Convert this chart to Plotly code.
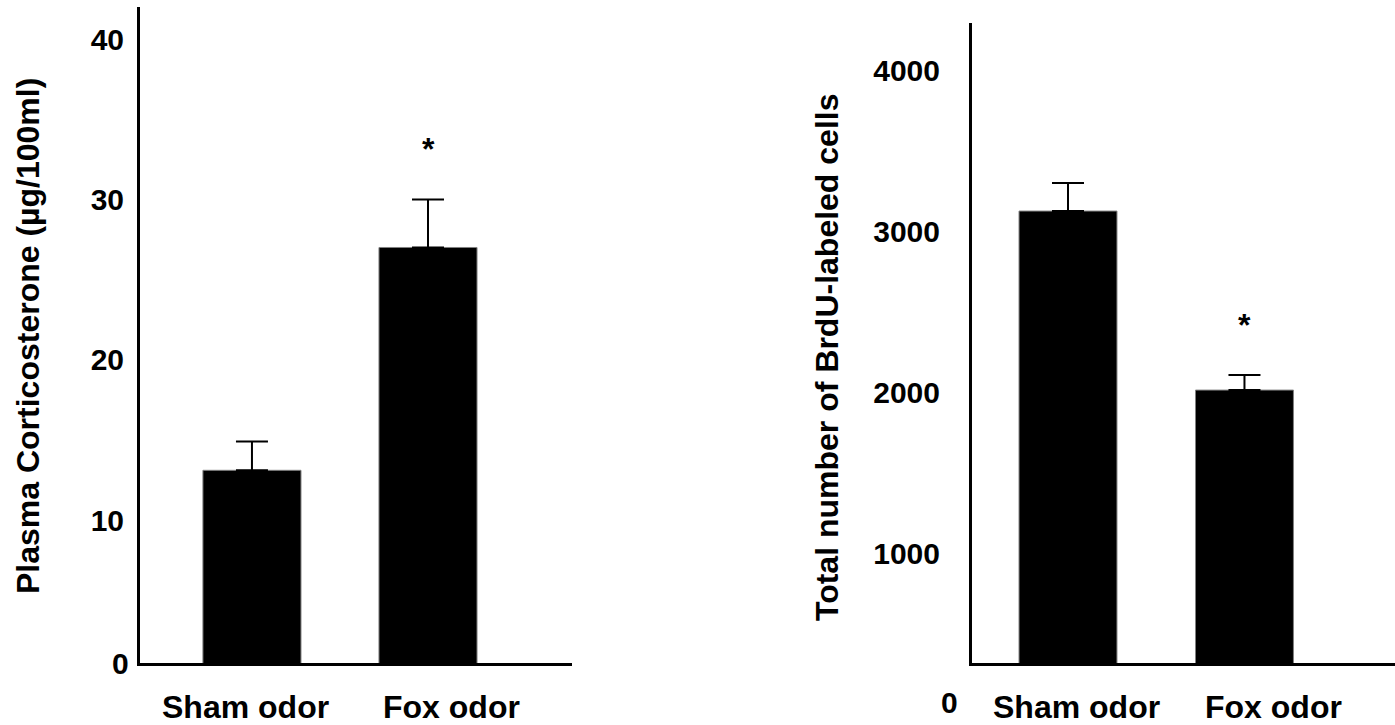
import plotly.graph_objects as go

# ---- data ----
categories = ["Sham odor", "Fox odor"]
cort_mean = [13.1, 27.0]
cort_sem = [1.8, 3.0]
cort_star = [None, 33.3]          # y of significance marker
brdu_mean = [3124, 2012]
brdu_sem = [174, 94]
brdu_star = [None, 2435]
cort_ticks = [10, 20, 30, 40]
brdu_ticks = [1000, 2000, 3000, 4000]
zero_label = "0"
cort_title = "Plasma Corticosterone (µg/100ml)"
brdu_title = "Total number of BrdU-labeled cells"

W, H = 1395, 725
FONT = "Arial, Liberation Sans, sans-serif"


def px(x):
    return x / W


def py(y):
    return (H - y) / H


fig = go.Figure()

bar_style = dict(marker=dict(color="black", line=dict(color="#808080", width=1)))
err_style = dict(type="data", symmetric=False, color="black", thickness=2, width=16)

fig.add_trace(go.Bar(
    x=[0, 1], y=cort_mean, width=0.557, xaxis="x", yaxis="y",
    error_y=dict(array=cort_sem, arrayminus=[0] * len(cort_sem), **err_style),
    showlegend=False, **bar_style))
fig.add_trace(go.Bar(
    x=[0, 1], y=brdu_mean, width=0.555, xaxis="x2", yaxis="y2",
    error_y=dict(array=brdu_sem, arrayminus=[0] * len(brdu_sem), **err_style),
    showlegend=False, **bar_style))

axis_common = dict(showline=True, linecolor="black", linewidth=3, showgrid=False,
                   zeroline=False, ticks="")
tickfont = dict(family=FONT, size=30, color="black", weight="bold")

fig.update_layout(
    width=W, height=H, margin=dict(l=0, r=0, t=0, b=0),
    paper_bgcolor="white", plot_bgcolor="white",
    xaxis=dict(domain=[px(140), px(572)], range=[-0.636, 1.818], anchor="y",
               showticklabels=False, **axis_common),
    yaxis=dict(domain=[py(663), py(7)], range=[1.08, 42.0], anchor="x",
               tickvals=cort_ticks, ticktext=[str(t) for t in cort_ticks],
               tickfont=tickfont, ticklabelstandoff=7, **axis_common),
    xaxis2=dict(domain=[px(972), 1.0], range=[-0.544, 1.853], anchor="y2",
                showticklabels=False, **axis_common),
    yaxis2=dict(domain=[py(663), py(23)], range=[317, 4292], anchor="x2",
                tickvals=brdu_ticks, ticktext=[str(t) for t in brdu_ticks],
                tickfont=tickfont, ticklabelstandoff=23, **axis_common),
)

ann = []
lab_font = dict(family=FONT, size=32, color="black", weight="bold")
# axis titles
ann.append(dict(text=cort_title, x=px(28), y=py(336), xref="paper", yref="paper",
                textangle=-90, showarrow=False, font=lab_font,
                xanchor="center", yanchor="middle"))
ann.append(dict(text=brdu_title, x=px(827), y=py(358), xref="paper", yref="paper",
                textangle=-90, showarrow=False, font=lab_font,
                xanchor="center", yanchor="middle"))
# zero labels
ann.append(dict(text=zero_label, x=px(120), y=py(663), xref="paper", yref="paper",
                showarrow=False, font=tickfont, xanchor="center", yanchor="middle"))
ann.append(dict(text=zero_label, x=px(949), y=py(702), xref="paper", yref="paper",
                showarrow=False, font=tickfont, xanchor="center", yanchor="middle"))
# category labels
left_shift = [-6, 23]
right_shift = [8, 29]
for i, c in enumerate(categories):
    ann.append(dict(text=c, x=i, xref="x", y=py(707), yref="paper", xshift=left_shift[i],
                    showarrow=False, font=lab_font, xanchor="center", yanchor="middle"))
    ann.append(dict(text=c, x=i, xref="x2", y=py(707), yref="paper", xshift=right_shift[i],
                    showarrow=False, font=lab_font, xanchor="center", yanchor="middle"))
# significance markers
for i, s in enumerate(cort_star):
    if s is not None:
        ann.append(dict(text="*", x=i, y=s, xref="x", yref="y", yshift=-3,
                        showarrow=False, font=lab_font, xanchor="center", yanchor="middle"))
for i, s in enumerate(brdu_star):
    if s is not None:
        ann.append(dict(text="*", x=i, y=s, xref="x2", yref="y2", yshift=-3,
                        showarrow=False, font=lab_font, xanchor="center", yanchor="middle"))

fig.update_layout(annotations=ann)
fig.write_html("out.html")
